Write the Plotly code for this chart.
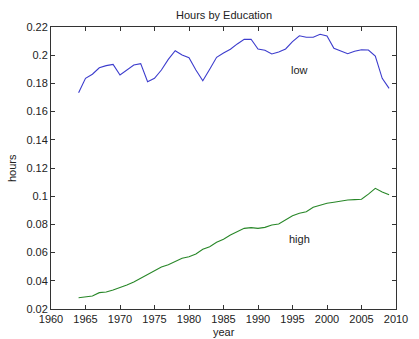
import plotly.graph_objects as go

# Annual average hours share by education group
years = list(range(1964, 2010))

low_hours = [
    0.1734, 0.1836, 0.1865, 0.1911, 0.1926, 0.1935, 0.1860, 0.1895, 0.1930, 0.1940,
    0.1812, 0.1836, 0.1895, 0.1970, 0.2032, 0.2001, 0.1982, 0.1895, 0.1819, 0.1900,
    0.1985, 0.2015, 0.2042, 0.2080, 0.2112, 0.2113, 0.2044, 0.2035, 0.2009, 0.2023,
    0.2044, 0.2096, 0.2138, 0.2127, 0.2127, 0.2148, 0.2136, 0.2049, 0.2030, 0.2011,
    0.2028, 0.2039, 0.2037, 0.1994, 0.1836, 0.1765,
]

high_hours = [
    0.0280, 0.0287, 0.0292, 0.0316, 0.0321, 0.0335, 0.0351, 0.0370, 0.0391, 0.0418,
    0.0446, 0.0470, 0.0498, 0.0514, 0.0535, 0.0560, 0.0571, 0.0590, 0.0623, 0.0642,
    0.0673, 0.0695, 0.0725, 0.0748, 0.0772, 0.0777, 0.0772, 0.0779, 0.0796, 0.0803,
    0.0831, 0.0862, 0.0879, 0.0890, 0.0921, 0.0938, 0.0950, 0.0957, 0.0966, 0.0973,
    0.0976, 0.0978, 0.1015, 0.1056, 0.1030, 0.1010,
]

series_labels = ["low", "high"]
label_pos = [(1996, 0.1895), (1996, 0.0696)]

font_family = "Liberation Sans, Arial, sans-serif"
text_color = "#222222"

fig = go.Figure()
fig.add_trace(go.Scatter(x=years, y=low_hours, mode="lines",
                         line=dict(color="rgb(60,60,205)", width=1.1),
                         name=series_labels[0], showlegend=False))
fig.add_trace(go.Scatter(x=years, y=high_hours, mode="lines",
                         line=dict(color="rgb(40,135,40)", width=1.1),
                         name=series_labels[1], showlegend=False))

for name, (lx, ly) in zip(series_labels, label_pos):
    fig.add_annotation(x=lx, y=ly, text=name, showarrow=False,
                       font=dict(size=11, color=text_color, family=font_family))

axis_common = dict(
    showline=True, linecolor="#333333", linewidth=1, mirror="ticks",
    ticks="inside", ticklen=4, tickcolor="#333333",
    showgrid=False, zeroline=False, ticklabeloverflow="allow",
    tickfont=dict(size=11, color=text_color, family=font_family),
)

fig.update_xaxes(range=[1960, 2010], dtick=5, tick0=1960, **axis_common)
fig.update_yaxes(range=[0.02, 0.22], dtick=0.02, tick0=0.02, **axis_common)

fig.add_annotation(text="Hours by Education", xref="paper", yref="paper",
                   x=0.5, y=1, yshift=12, showarrow=False, yanchor="middle",
                   font=dict(size=11, color=text_color, family=font_family))
fig.add_annotation(text="year", xref="paper", yref="paper",
                   x=0.5, y=0, yshift=-23, showarrow=False, yanchor="middle",
                   font=dict(size=11, color=text_color, family=font_family))
fig.add_annotation(text="hours", xref="paper", yref="paper",
                   x=0, xshift=-39, y=0.5, showarrow=False, textangle=-90,
                   xanchor="center", yanchor="middle",
                   font=dict(size=11, color=text_color, family=font_family))

fig.update_layout(
    width=419, height=339,
    margin=dict(l=51, r=11, t=27, b=30),
    paper_bgcolor="white", plot_bgcolor="white",
    showlegend=False,
)

fig.write_html("out.html")
